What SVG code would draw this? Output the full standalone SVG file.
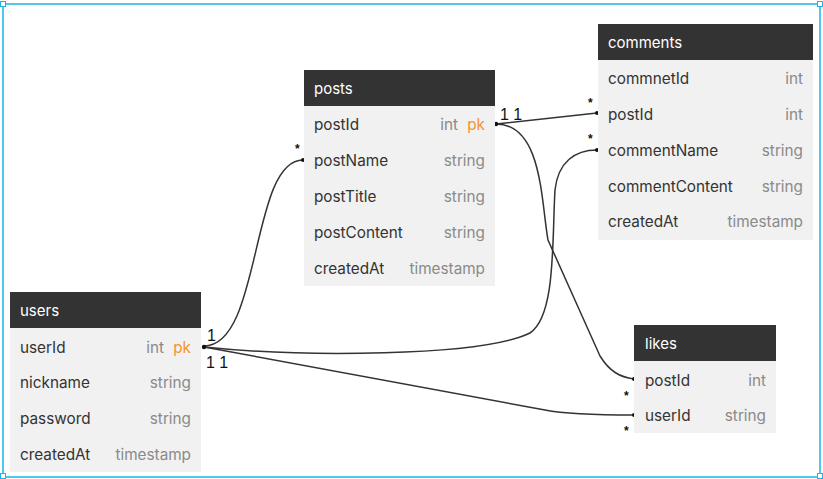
<svg xmlns="http://www.w3.org/2000/svg" width="823" height="479" viewBox="0 0 823 479">
<style>
.hd{fill:#333333}
.bd{fill:#f1f1f1}
.tt{font-family:Inter,"Liberation Sans",sans-serif;font-size:15px;fill:#ffffff}
.fn{font-family:Inter,"Liberation Sans",sans-serif;font-size:15.3px;fill:#333333}
.ty{font-family:Inter,"Liberation Sans",sans-serif;font-size:15.3px;fill:#8a8a8a;text-anchor:end}
.pk{font-family:Inter,"Liberation Sans",sans-serif;font-size:15.3px;fill:#f7932f;text-anchor:end}
.ln{fill:none;stroke:#333333;stroke-width:1.5}
.dot{fill:#111111}
.lb{font-family:"Liberation Sans",sans-serif;font-size:16px;fill:#111111}
.st{font-family:"Liberation Sans",sans-serif;font-size:12px;font-weight:bold;fill:#111111}
.fr{fill:none;stroke:#1fb3e8;stroke-width:1.5}
.hn{fill:#ffffff;stroke:#1fb3e8;stroke-width:1}
</style>
<rect width="823" height="479" fill="#ffffff"/>
<g id="frame">
<rect class="fr" x="3" y="4" width="817" height="473"/>
<rect class="hn" x="0.5" y="1.5" width="5" height="5"/>
<rect class="hn" x="817.5" y="1.5" width="5" height="5"/>
<rect class="hn" x="0.5" y="473.5" width="5" height="5"/>
<rect class="hn" x="817.5" y="473.5" width="5" height="5"/>
</g>
<g id="connectors">
<path class="ln" d="M204,346 C262,346 250,160 303,160"/>
<path class="ln" d="M496,124 L597,113"/>
<path class="ln" d="M496,124 C542,124 541,200 548,240 L600,356 C610,372 620,377 634,379"/>
<path class="ln" d="M204,347 C300,357 480,357 530,333 C556,316 552,240 555,190 C558,162 575,150 597,150"/>
<path class="ln" d="M204,347 L545,410 C565,414 595,415 634,415"/>
<circle class="dot" cx="204" cy="347" r="2.2"/>
<circle class="dot" cx="303" cy="160" r="2"/>
<circle class="dot" cx="496" cy="124" r="2.2"/>
<circle class="dot" cx="597" cy="113" r="2"/>
<circle class="dot" cx="597" cy="150" r="2"/>
<circle class="dot" cx="634" cy="379" r="2"/>
<circle class="dot" cx="634" cy="415" r="2"/>
<text class="lb" x="207" y="341">1</text>
<text class="lb" x="206" y="368">1 1</text>
<text class="lb" x="500" y="120">1 1</text>
<text class="st" x="295" y="153">*</text>
<text class="st" x="588" y="107">*</text>
<text class="st" x="588" y="143">*</text>
<text class="st" x="624" y="400">*</text>
<text class="st" x="624" y="435">*</text>
</g>
<g id="posts">
<rect class="bd" x="304" y="106" width="191" height="180"/>
<rect class="hd" x="304" y="70" width="191" height="36"/>
<text class="tt" x="314" y="94">posts</text>
<text class="fn" x="314" y="130">postId</text><text class="ty" x="458" y="130">int</text><text class="pk" x="485" y="130">pk</text>
<text class="fn" x="314" y="166">postName</text><text class="ty" x="485" y="166">string</text>
<text class="fn" x="314" y="202">postTitle</text><text class="ty" x="485" y="202">string</text>
<text class="fn" x="314" y="238">postContent</text><text class="ty" x="485" y="238">string</text>
<text class="fn" x="314" y="274">createdAt</text><text class="ty" x="485" y="274">timestamp</text>
</g>
<g id="comments">
<rect class="bd" x="598" y="60" width="215" height="180"/>
<rect class="hd" x="598" y="24" width="215" height="36"/>
<text class="tt" x="608" y="48">comments</text>
<text class="fn" x="608" y="84">commnetId</text><text class="ty" x="803" y="84">int</text>
<text class="fn" x="608" y="120">postId</text><text class="ty" x="803" y="120">int</text>
<text class="fn" x="608" y="156">commentName</text><text class="ty" x="803" y="156">string</text>
<text class="fn" x="608" y="192">commentContent</text><text class="ty" x="803" y="192">string</text>
<text class="fn" x="608" y="227">createdAt</text><text class="ty" x="803" y="227">timestamp</text>
</g>
<g id="users">
<rect class="bd" x="10" y="328" width="191" height="144"/>
<rect class="hd" x="10" y="292" width="191" height="36"/>
<text class="tt" x="20" y="316">users</text>
<text class="fn" x="20" y="353">userId</text><text class="ty" x="164" y="353">int</text><text class="pk" x="191" y="353">pk</text>
<text class="fn" x="20" y="388">nickname</text><text class="ty" x="191" y="388">string</text>
<text class="fn" x="20" y="424">password</text><text class="ty" x="191" y="424">string</text>
<text class="fn" x="20" y="460">createdAt</text><text class="ty" x="191" y="460">timestamp</text>
</g>
<g id="likes">
<rect class="bd" x="634" y="361" width="142" height="72"/>
<rect class="hd" x="634" y="325" width="142" height="36"/>
<text class="tt" x="645" y="349">likes</text>
<text class="fn" x="645" y="386">postId</text><text class="ty" x="766" y="386">int</text>
<text class="fn" x="645" y="421">userId</text><text class="ty" x="766" y="421">string</text>
</g>
</svg>
